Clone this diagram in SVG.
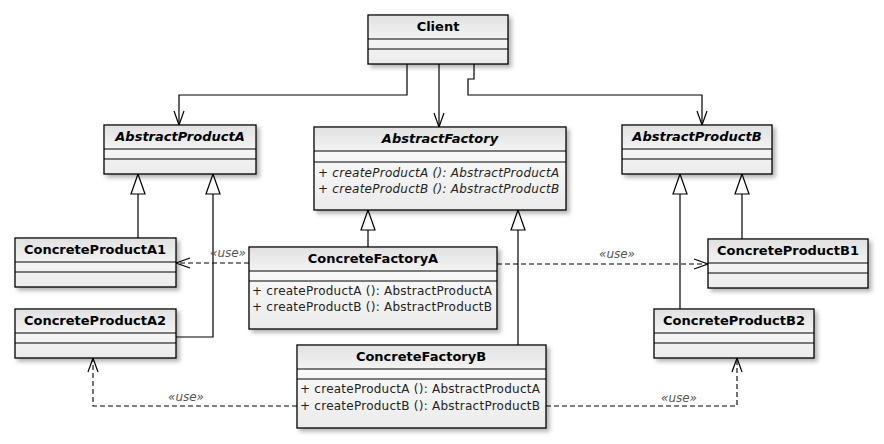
<svg xmlns="http://www.w3.org/2000/svg" width="884" height="444" viewBox="0 0 884 444">
<defs>
<linearGradient id="hg" x1="0" y1="0" x2="0" y2="1"><stop offset="0" stop-color="#e2e2e2"/><stop offset="1" stop-color="#f3f3f3"/></linearGradient>
<linearGradient id="bg" x1="0" y1="0" x2="0" y2="1"><stop offset="0" stop-color="#ffffff"/><stop offset="1" stop-color="#ebebeb"/></linearGradient>
<filter id="sh" x="-10%" y="-10%" width="130%" height="140%"><feDropShadow dx="3" dy="3" stdDeviation="2" flood-color="#000" flood-opacity="0.3"/></filter>
<marker id="open" markerUnits="userSpaceOnUse" viewBox="-16 -8 18 16" refX="0" refY="0" markerWidth="18" markerHeight="16" orient="auto"><path d="M-14,-5 L0,0 L-14,5" fill="none" stroke="#000" stroke-width="1.2"/></marker>
<marker id="tri" markerUnits="userSpaceOnUse" viewBox="-22 -9 24 18" refX="0" refY="0" markerWidth="24" markerHeight="18" orient="auto"><path d="M0,0 L-20,-7 L-20,7 Z" fill="#fff" stroke="#000" stroke-width="1.2"/></marker>
</defs>
<style>
.box{fill:url(#bg);stroke:#000;stroke-width:1.3;filter:url(#sh)}
.hd{fill:url(#hg);stroke:none}
.ln{stroke:#000;stroke-width:1.2}
.t{font-family:"DejaVu Sans",Verdana,sans-serif;font-size:13px;font-weight:bold;fill:#000;text-anchor:middle}
.ti{font-style:italic}
.m{font-family:"DejaVu Sans",Verdana,sans-serif;font-size:12px;letter-spacing:0.25px;fill:#222}
.mi{font-style:italic}
.c{fill:none;stroke:#000;stroke-width:1.2}
.d{fill:none;stroke:#000;stroke-width:1.1;stroke-dasharray:5,3}
.u{font-family:"DejaVu Sans",Verdana,sans-serif;font-size:12px;font-style:italic;fill:#555;text-anchor:middle}
</style>
<g id="connectors">
<polyline class="c" points="407,64 407,95 179,95 179,125" marker-end="url(#open)"/>
<polyline class="c" points="439,64 439,127" marker-end="url(#open)"/>
<polyline class="c" points="474,64 474,79 468,79 468,95 702,95 702,125" marker-end="url(#open)"/>
<polyline class="c" points="138,238 138,174" marker-end="url(#tri)"/>
<polyline class="c" points="176,337 213,337 213,174" marker-end="url(#tri)"/>
<polyline class="c" points="368,247 368,210" marker-end="url(#tri)"/>
<polyline class="c" points="518,345 518,210" marker-end="url(#tri)"/>
<polyline class="c" points="680,309 680,174" marker-end="url(#tri)"/>
<polyline class="c" points="742,239 742,174" marker-end="url(#tri)"/>
<polyline class="d" points="249,263 176,263" marker-end="url(#open)"/>
<text class="u" x="228" y="257">«use»</text>
<polyline class="d" points="497,264 708,264" marker-end="url(#open)"/>
<text class="u" x="617" y="258">«use»</text>
<polyline class="d" points="297,406 93,406 93,358" marker-end="url(#open)"/>
<text class="u" x="186" y="401">«use»</text>
<polyline class="d" points="546,406 737,406 737,358" marker-end="url(#open)"/>
<text class="u" x="679" y="402">«use»</text>
</g>
<g id="Client">
<rect class="box" x="368" y="15" width="140" height="49"/>
<rect class="hd" x="369" y="16" width="138" height="23"/>
<line class="ln" x1="368" y1="39" x2="508" y2="39"/><line class="ln" x1="368" y1="49" x2="508" y2="49"/>
<text class="t" x="438" y="31">Client</text>
</g>
<g id="AbstractProductA">
<rect class="box" x="104" y="125" width="152" height="49"/>
<rect class="hd" x="105" y="126" width="150" height="23"/>
<line class="ln" x1="104" y1="149" x2="256" y2="149"/><line class="ln" x1="104" y1="159" x2="256" y2="159"/>
<text class="t ti" x="180" y="141">AbstractProductA</text>
</g>
<g id="AbstractFactory">
<rect class="box" x="314" y="127" width="252" height="83"/>
<rect class="hd" x="315" y="128" width="250" height="23"/>
<line class="ln" x1="314" y1="151" x2="566" y2="151"/><line class="ln" x1="314" y1="162" x2="566" y2="162"/>
<text class="t ti" x="440" y="143">AbstractFactory</text>
<text class="m mi" x="318" y="177">+ createProductA (): AbstractProductA</text>
<text class="m mi" x="318" y="193">+ createProductB (): AbstractProductB</text>
</g>
<g id="AbstractProductB">
<rect class="box" x="622" y="125" width="150" height="49"/>
<rect class="hd" x="623" y="126" width="148" height="23"/>
<line class="ln" x1="622" y1="149" x2="772" y2="149"/><line class="ln" x1="622" y1="159" x2="772" y2="159"/>
<text class="t ti" x="697" y="141">AbstractProductB</text>
</g>
<g id="ConcreteProductA1">
<rect class="box" x="15" y="238" width="161" height="49"/>
<rect class="hd" x="16" y="239" width="159" height="23"/>
<line class="ln" x1="15" y1="262" x2="176" y2="262"/><line class="ln" x1="15" y1="272" x2="176" y2="272"/>
<text class="t" x="95" y="254">ConcreteProductA1</text>
</g>
<g id="ConcreteProductA2">
<rect class="box" x="15" y="309" width="161" height="49"/>
<rect class="hd" x="16" y="310" width="159" height="23"/>
<line class="ln" x1="15" y1="333" x2="176" y2="333"/><line class="ln" x1="15" y1="343" x2="176" y2="343"/>
<text class="t" x="95" y="325">ConcreteProductA2</text>
</g>
<g id="ConcreteFactoryA">
<rect class="box" x="249" y="247" width="248" height="82"/>
<rect class="hd" x="250" y="248" width="246" height="23"/>
<line class="ln" x1="249" y1="271" x2="497" y2="271"/><line class="ln" x1="249" y1="281" x2="497" y2="281"/>
<text class="t" x="373" y="263">ConcreteFactoryA</text>
<text class="m" x="252" y="295">+ createProductA (): AbstractProductA</text>
<text class="m" x="252" y="311">+ createProductB (): AbstractProductB</text>
</g>
<g id="ConcreteFactoryB">
<rect class="box" x="297" y="345" width="249" height="83"/>
<rect class="hd" x="298" y="346" width="247" height="23"/>
<line class="ln" x1="297" y1="369" x2="546" y2="369"/><line class="ln" x1="297" y1="379" x2="546" y2="379"/>
<text class="t" x="421" y="361">ConcreteFactoryB</text>
<text class="m" x="300" y="393">+ createProductA (): AbstractProductA</text>
<text class="m" x="300" y="410">+ createProductB (): AbstractProductB</text>
</g>
<g id="ConcreteProductB1">
<rect class="box" x="708" y="239" width="160" height="49"/>
<rect class="hd" x="709" y="240" width="158" height="23"/>
<line class="ln" x1="708" y1="263" x2="868" y2="263"/><line class="ln" x1="708" y1="273" x2="868" y2="273"/>
<text class="t" x="788" y="255">ConcreteProductB1</text>
</g>
<g id="ConcreteProductB2">
<rect class="box" x="654" y="309" width="160" height="49"/>
<rect class="hd" x="655" y="310" width="158" height="23"/>
<line class="ln" x1="654" y1="333" x2="814" y2="333"/><line class="ln" x1="654" y1="343" x2="814" y2="343"/>
<text class="t" x="734" y="325">ConcreteProductB2</text>
</g>
</svg>
